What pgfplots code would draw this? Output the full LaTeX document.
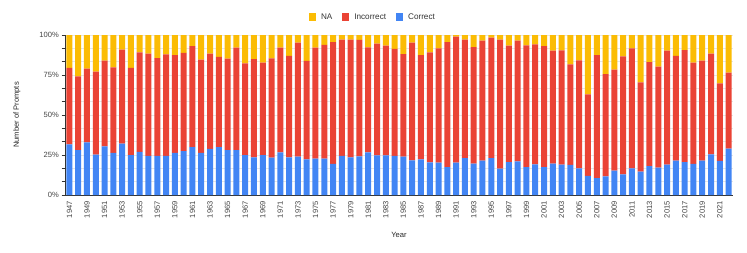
\documentclass[border=0pt]{standalone}
\usepackage{pgfplots}
\pgfplotsset{compat=1.18}
\usepackage{pgfplotstable}
\usepackage{fontspec}
\setmainfont{Liberation Sans}
\definecolor{gblue}{HTML}{4285F4}
\definecolor{gred}{HTML}{EA4335}
\definecolor{gyellow}{HTML}{FBBC04}
\definecolor{gridc}{HTML}{E6E6E6}
\definecolor{txt}{HTML}{444444}
\pgfplotstableread{
year correct incorrect na
1947 31.7 47.7 20.6
1948 28.1 46.1 25.8
1949 32.9 46.1 21.0
1950 25.2 51.9 22.9
1951 30.4 53.6 16.0
1952 26.3 53.5 20.2
1953 32.1 58.7 9.2
1954 25.0 54.4 20.6
1955 26.9 62.3 10.8
1956 24.4 63.9 11.7
1957 24.4 61.2 14.4
1958 24.4 63.5 12.1
1959 26.3 61.2 12.5
1960 27.5 61.3 11.2
1961 30.0 63.1 6.9
1962 26.3 58.3 15.4
1963 28.8 59.5 11.7
1964 30.0 56.3 13.7
1965 28.1 57.1 14.8
1966 28.1 64.0 7.9
1967 25.0 57.3 17.7
1968 23.5 61.5 15.0
1969 25.0 57.7 17.3
1970 23.3 62.1 14.6
1971 26.7 65.4 7.9
1972 23.5 63.4 13.1
1973 24.0 71.2 4.8
1974 22.3 61.5 16.2
1975 22.7 69.4 7.9
1976 22.7 71.1 6.2
1977 19.4 76.2 4.4
1978 24.4 72.7 2.9
1979 23.5 73.6 2.9
1980 24.2 72.7 3.1
1981 26.7 65.6 7.7
1982 24.8 69.8 5.4
1983 24.8 68.5 6.7
1984 24.4 66.9 8.7
1985 24.0 64.1 11.9
1986 21.7 73.5 4.8
1987 22.3 65.2 12.5
1988 20.4 68.8 10.8
1989 20.2 71.5 8.3
1990 17.5 78.1 4.4
1991 20.2 78.8 1.0
1992 23.1 74.0 2.9
1993 19.6 72.9 7.5
1994 21.5 75.0 3.5
1995 23.1 75.2 1.7
1996 16.5 80.6 2.9
1997 20.6 72.7 6.7
1998 21.0 75.5 3.5
1999 17.5 76.0 6.5
2000 19.2 75.0 5.8
2001 17.5 75.6 6.9
2002 19.6 70.7 9.7
2003 19.0 71.4 9.6
2004 18.8 62.9 18.3
2005 16.7 67.5 15.8
2006 11.9 51.0 37.1
2007 10.6 76.9 12.5
2008 11.7 63.9 24.4
2009 15.2 63.1 21.7
2010 12.9 73.8 13.3
2011 16.7 75.0 8.3
2012 14.6 55.8 29.6
2013 18.1 65.0 16.9
2014 17.1 63.1 19.8
2015 19.0 71.2 9.8
2016 21.5 65.4 13.1
2017 20.6 70.0 9.4
2018 19.4 63.3 17.3
2019 21.5 62.5 16.0
2020 25.4 62.9 11.7
2021 21.3 48.5 30.2
2022 29.0 47.5 23.5
}\datatable
\begin{document}
\fontsize{7.6}{9}\selectfont
\begin{tikzpicture}
\useasboundingbox (-65bp,-58bp) rectangle (682bp,195bp);
\begin{axis}[
  at={(0,0)}, anchor=south west,
  scale only axis, width=668bp, height=160bp,
  ybar stacked, bar width=6bp,
  xmin=1946.5, xmax=2022.5,
  ymin=0, ymax=100,
  xtick={1947,1949,...,2021},
  x tick label style={rotate=90, anchor=east, /pgf/number format/1000 sep={}, /pgf/number format/assume math mode=true, font=\fontsize{7.6}{9}\selectfont, text=txt},
  xtick style={draw=none},
  ytick={0,25,50,75,100},
  yticklabels={0\%,25\%,50\%,75\%,100\%},
  y tick label style={font=\fontsize{7.6}{9}\selectfont, text=txt},
  minor y tick num=2,
  ymajorgrids, yminorgrids,
  major grid style={gridc, line width=0.6pt},
  minor grid style={gridc, line width=0.6pt},
  tick align=outside,
  major tick length=3.5bp, minor tick length=3.5bp,
  ytick style={black!80, line width=0.6pt},
  axis x line*=bottom, axis y line*=left,
  axis line style={black!80, line width=0.8pt, -},
  xlabel={Year}, ylabel={Number of Prompts},
  label style={font=\fontsize{7.6}{9}\selectfont, text=black!85},
  xlabel style={at={(axis description cs:0.5,0)}, anchor=center, yshift=-40bp},
  ylabel style={at={(axis description cs:0,0.5)}, anchor=center, yshift=48bp},
  legend columns=3, reverse legend,
  legend style={at={(axis description cs:0.461,1.1125)}, anchor=center, draw=none, fill=none,
    font=\fontsize{8.2}{10}\selectfont, text=black!80,
    /tikz/every odd column/.append style={column sep=3bp},
    /tikz/every even column/.append style={column sep=8bp}},
  legend image code/.code={\fill[#1] (0bp,-3.5bp) rectangle (7bp,3.5bp);},
]
\addplot[fill=gblue, draw=none] table[x=year, y=correct] {\datatable};
\addlegendentry{Correct}
\addplot[fill=gred, draw=none] table[x=year, y=incorrect] {\datatable};
\addlegendentry{Incorrect}
\addplot[fill=gyellow, draw=none] table[x=year, y=na] {\datatable};
\addlegendentry{NA}
\end{axis}
\end{tikzpicture}
\end{document}
